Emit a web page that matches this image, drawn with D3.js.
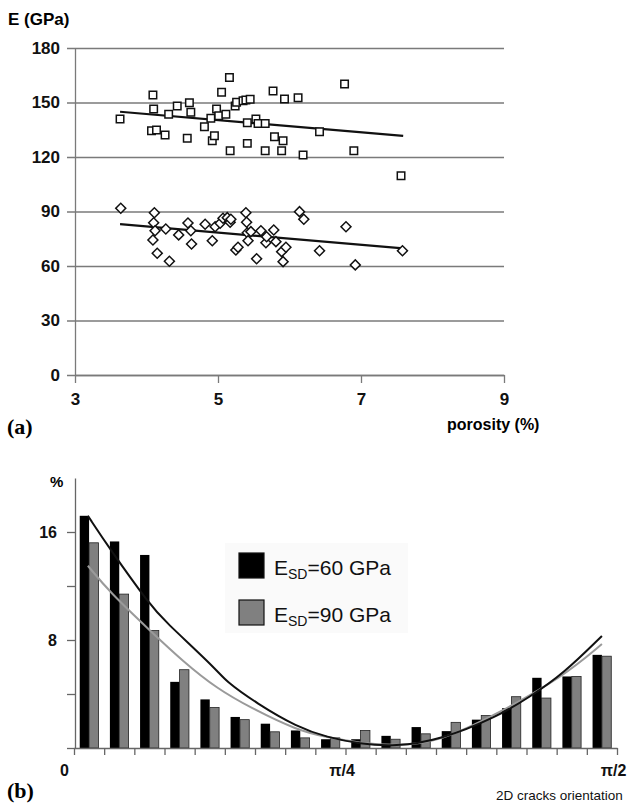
<!DOCTYPE html>
<html>
<head>
<meta charset="utf-8">
<script src="https://cdn.jsdelivr.net/npm/d3@7"></script>
<style>
  body { margin: 0; background: #fff; }
  svg { display: block; font-family: "Liberation Sans", Arial, sans-serif; }
</style>
</head>
<body>
<div id="chart"></div>
<script>
// (a) Young's modulus vs porosity
var squarePoints = [
  [3.63, 140.9], [4.09, 154.1], [4.10, 146.4], [4.07, 134.5], [4.14, 134.9],
  [4.26, 132.1], [4.31, 143.5], [4.43, 148.1], [4.57, 130.3], [4.60, 149.9],
  [4.62, 144.6], [4.81, 136.7], [4.90, 141.3], [4.92, 129.0], [4.95, 131.7],
  [4.98, 146.4], [5.01, 142.7], [5.05, 155.6], [5.11, 143.5], [5.16, 163.7],
  [5.17, 123.5], [5.24, 148.1], [5.26, 150.1], [5.35, 151.0], [5.39, 151.4],
  [5.45, 151.8], [5.41, 138.9], [5.41, 127.5], [5.53, 140.9], [5.56, 138.5],
  [5.66, 138.5], [5.66, 123.5], [5.77, 156.3], [5.79, 131.2], [5.89, 123.5],
  [5.91, 129.0], [5.93, 151.9], [6.12, 152.6], [6.19, 121.1], [6.42, 133.9],
  [6.77, 160.2], [6.90, 123.5], [7.56, 109.7]
];
var diamondPoints = [
  [3.64, 91.8], [4.11, 89.3], [4.10, 83.8], [4.12, 79.4], [4.09, 74.3],
  [4.15, 67.0], [4.27, 80.4], [4.32, 62.6], [4.45, 77.1], [4.58, 83.7],
  [4.62, 79.4], [4.63, 72.1], [4.82, 83.0], [4.92, 73.9], [4.96, 81.6],
  [5.03, 83.5], [5.07, 86.3], [5.13, 86.6], [5.17, 84.1], [5.18, 85.7],
  [5.25, 68.8], [5.28, 70.3], [5.39, 89.3], [5.40, 84.1], [5.41, 78.3],
  [5.42, 73.9], [5.46, 78.9], [5.54, 64.0], [5.60, 79.4], [5.67, 72.8],
  [5.68, 76.1], [5.78, 79.8], [5.81, 73.4], [5.89, 67.9], [5.91, 62.4],
  [5.95, 70.3], [6.14, 89.9], [6.20, 85.7], [6.42, 68.4], [6.79, 81.6],
  [6.92, 60.6], [7.58, 68.4]
];
var squareFit = [[3.63, 144.9], [7.59, 131.6]];
var diamondFit = [[3.63, 83.0], [7.59, 69.7]];
var porosityTicks = [3, 5, 7, 9];
var modulusTicks = [0, 30, 60, 90, 120, 150, 180];

// (b) crack orientation histogram, 18 bins of 5 degrees
var binStarts = d3.range(0, 90, 5);
var seriesNames = ["60", "90"];
var bars60 = [17.2, 15.3, 14.3, 4.9, 3.6, 2.3, 1.8, 1.3, 0.65, 0.65, 0.9, 1.55, 1.25, 2.1, 2.95, 5.2, 5.3, 6.9];
var bars90 = [15.2, 11.4, 8.7, 5.8, 3.0, 2.1, 1.2, 0.75, 0.75, 1.3, 0.65, 1.05, 1.9, 2.4, 3.8, 3.7, 5.3, 6.8];
var curve60 = [[2.3, 17.2], [6.0, 14.7], [12.6, 10.6], [14.8, 9.5], [23.7, 5.8], [25.0, 5.0], [30.3, 3.3],
  [37.0, 1.55], [41.9, 0.8], [47.4, 0.3], [53.2, 0.1], [60.7, 0.6], [70.1, 2.3], [75.6, 3.8], [81.1, 5.5], [87.5, 8.3]];
var curve90 = [[2.3, 13.5], [6.0, 11.5], [12.6, 8.7], [18.1, 6.4], [23.7, 4.4], [29.2, 3.0], [37.0, 1.3],
  [41.9, 0.8], [47.4, 0.35], [54.0, 0.15], [60.7, 0.5], [70.1, 2.5], [81.1, 5.3], [87.5, 7.7]];
var angleLabels = { 0: "0", 45: "\u03c0/4", 90: "\u03c0/2" };
var percentTicks = [0, 4, 8, 12, 16];

var svg = d3.select("#chart").append("svg")
    .attr("width", 630)
    .attr("height", 806);

var gridColor = "#7a7a7a";

// ---------- panel (a) ----------
var x = d3.scaleLinear([3, 9], [75, 504]);
var y = d3.scaleLinear([0, 180], [375, 48]);

var yAxisA = svg.append("g")
    .attr("transform", "translate(75,0)")
    .call(d3.axisLeft(y).tickValues(modulusTicks).tickSizeInner(-429).tickSizeOuter(0).tickPadding(15));
yAxisA.selectAll(".tick line").attr("x1", -8).attr("stroke", gridColor).attr("stroke-width", 1.3);
yAxisA.select(".domain").attr("stroke", gridColor).attr("stroke-width", 1.3);
yAxisA.selectAll("text").attr("font-size", "17px").attr("font-weight", "bold").attr("fill", "#111");

var xAxisA = svg.append("g")
    .attr("transform", "translate(0,375)")
    .call(d3.axisBottom(x).tickValues(porosityTicks).tickFormat(d3.format("d"))
        .tickSizeInner(8).tickSizeOuter(0).tickPadding(10));
xAxisA.selectAll("line").attr("stroke", gridColor).attr("stroke-width", 1.3);
xAxisA.select(".domain").attr("stroke", gridColor).attr("stroke-width", 1.3);
xAxisA.selectAll("text").attr("font-size", "17px").attr("font-weight", "bold").attr("fill", "#111");

var fitLine = d3.line().x(function (d) { return x(d[0]); }).y(function (d) { return y(d[1]); });
[squareFit, diamondFit].forEach(function (f) {
    svg.append("path")
        .attr("d", fitLine(f))
        .attr("fill", "none")
        .attr("stroke", "#111")
        .attr("stroke-width", 2.2);
});

svg.append("g").selectAll("path")
    .data(squarePoints)
    .enter().append("path")
        .attr("transform", function (d) { return `translate(${x(d[0])},${y(d[1])})`; })
        .attr("d", d3.symbol(d3.symbolSquare, 56))
        .attr("fill", "white")
        .attr("stroke", "#111")
        .attr("stroke-width", 1.5);

svg.append("g").selectAll("path")
    .data(diamondPoints)
    .enter().append("path")
        .attr("transform", function (d) { return `translate(${x(d[0])},${y(d[1])}) rotate(45)`; })
        .attr("d", d3.symbol(d3.symbolSquare, 50))
        .attr("fill", "white")
        .attr("stroke", "#111")
        .attr("stroke-width", 1.5);

svg.append("text")
    .attr("x", 8).attr("y", 25)
    .attr("font-size", "17px").attr("font-weight", "bold")
    .text("E (GPa)");

svg.append("text")
    .attr("x", 447).attr("y", 430)
    .attr("font-size", "16px").attr("font-weight", "bold")
    .text("porosity (%)");

svg.append("text")
    .attr("x", 7).attr("y", 434)
    .attr("font-family", "'Liberation Serif', 'Times New Roman', serif")
    .attr("font-size", "22px").attr("font-weight", "bold")
    .text("(a)");

// ---------- panel (b) ----------
var xb = d3.scaleLinear([0, 90], [74, 617]);
var yb = d3.scaleLinear([0, 20], [748, 478]);
var bins = d3.scaleBand(binStarts, [74, 617]).paddingInner(0.38).paddingOuter(0.19);
var sub = d3.scaleBand(seriesNames, [0, bins.bandwidth()]);
var barColor = { "60": "#000", "90": "#808080" };

svg.append("rect")
    .attr("x", 225).attr("y", 543).attr("width", 183).attr("height", 90)
    .attr("fill", "#fafafa");

var barGroups = svg.append("g").selectAll("g")
    .data(binStarts)
    .enter().append("g")
        .attr("transform", function (d) { return `translate(${bins(d)},0)`; });

barGroups.selectAll("rect")
    .data(function (d, i) { return [{ s: "60", v: bars60[i] }, { s: "90", v: bars90[i] }]; })
    .enter().append("rect")
        .attr("x", function (d) { return sub(d.s); })
        .attr("y", function (d) { return yb(d.v); })
        .attr("width", sub.bandwidth())
        .attr("height", function (d) { return yb(0) - yb(d.v); })
        .attr("fill", function (d) { return barColor[d.s]; })
        .attr("stroke", function (d) { return d.s === "90" ? "#222" : "none"; })
        .attr("stroke-width", 0.8);

var fitCurve = d3.line()
    .x(function (d) { return xb(d[0]); })
    .y(function (d) { return yb(d[1]); })
    .curve(d3.curveBasis);

svg.append("path")
    .attr("d", fitCurve(curve90))
    .attr("fill", "none")
    .attr("stroke", "#9a9a9a")
    .attr("stroke-width", 2);

svg.append("path")
    .attr("d", fitCurve(curve60))
    .attr("fill", "none")
    .attr("stroke", "#111")
    .attr("stroke-width", 2);

var yAxisB = svg.append("g")
    .attr("transform", "translate(75,0)")
    .call(d3.axisLeft(yb).tickValues(percentTicks).tickSizeInner(8).tickSizeOuter(0).tickPadding(10)
        .tickFormat(function (d) { return d === 8 || d === 16 ? d : ""; }));
yAxisB.selectAll("line").attr("stroke", "#666").attr("stroke-width", 1.3);
yAxisB.select(".domain").attr("stroke", "#666").attr("stroke-width", 1.3);
yAxisB.selectAll("text").attr("font-size", "16px").attr("font-weight", "bold").attr("fill", "#111");

var xAxisB = svg.append("g")
    .attr("transform", "translate(0,748)")
    .call(d3.axisBottom(xb).tickValues(d3.range(0, 91, 5)).tickSizeInner(7).tickSizeOuter(0).tickPadding(10)
        .tickFormat(function (d) { return angleLabels[d] || ""; }));
xAxisB.selectAll("line").attr("stroke", "#666").attr("stroke-width", 1.3);
xAxisB.select(".domain").attr("stroke", "#666").attr("stroke-width", 1.3);
xAxisB.selectAll("text")
    .attr("font-size", "16px").attr("font-weight", "bold").attr("fill", "#111")
    .attr("dx", function (d) { return d === 0 ? -10 : -4; });

svg.append("text")
    .attr("x", 50).attr("y", 487)
    .attr("font-size", "15px").attr("font-weight", "bold")
    .text("%");

// legend
var legendRows = [
  { s: "60", label: "=60 GPa", y: 553 },
  { s: "90", label: "=90 GPa", y: 600 }
];
var legend = svg.append("g").selectAll("g")
    .data(legendRows)
    .enter().append("g");
legend.append("rect")
    .attr("x", 239).attr("y", function (d) { return d.y; })
    .attr("width", 25).attr("height", 25)
    .attr("fill", function (d) { return barColor[d.s]; })
    .attr("stroke", "#111").attr("stroke-width", 1.2);
var legendText = legend.append("text")
    .attr("x", 274).attr("y", function (d) { return d.y + 22; })
    .attr("font-size", "21px").attr("fill", "#111");
legendText.append("tspan").text("E");
legendText.append("tspan").attr("font-size", "14px").attr("dy", 4).text("SD");
legendText.append("tspan").attr("dy", -4).text(function (d) { return d.label; });

svg.append("text")
    .attr("x", 496).attr("y", 800)
    .attr("font-size", "13.5px").attr("fill", "#111")
    .text("2D cracks orientation");

svg.append("text")
    .attr("x", 7).attr("y", 798)
    .attr("font-family", "'Liberation Serif', 'Times New Roman', serif")
    .attr("font-size", "22px").attr("font-weight", "bold")
    .text("(b)");
</script>
</body>
</html>
